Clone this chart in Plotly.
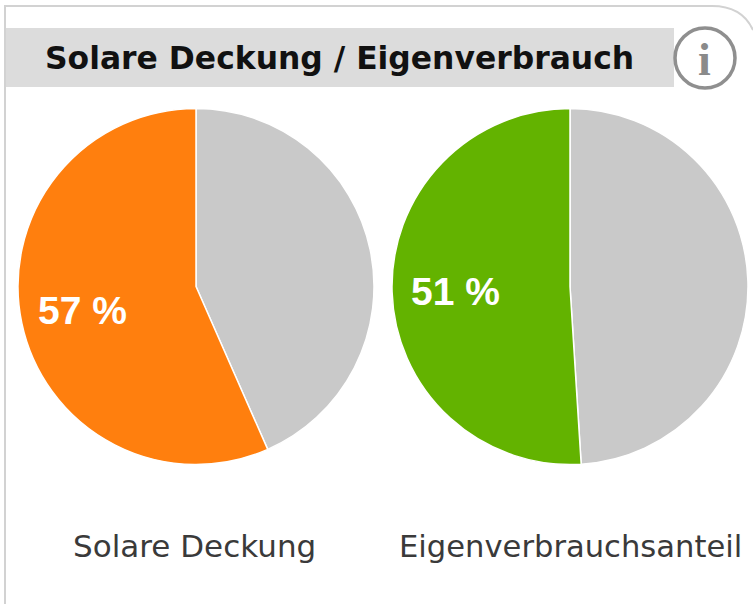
import plotly.graph_objects as go

title_text = "Solare Deckung / Eigenverbrauch"
chart_labels = ["Solare Deckung", "Eigenverbrauchsanteil"]
slice_labels = ["Rest", "Anteil"]
solar_values = [43.4, 56.6]
self_values = [49, 51]
percent_labels = ["57 %", "51 %"]
solar_colors = ["#c9c9c9", "#ff7f0e"]
self_colors = ["#c9c9c9", "#63b300"]

W, H = 753, 604
def px(x): return x / W
def py(y): return 1 - y / H

fig = go.Figure()
for vals, cols, x0, x1 in [(solar_values, solar_colors, 18, 374), (self_values, self_colors, 392, 748)]:
    fig.add_trace(go.Pie(
        values=vals, labels=slice_labels, sort=False, direction="clockwise", rotation=0,
        marker=dict(colors=cols, line=dict(color="white", width=1.5)),
        textinfo="none", showlegend=False, hoverinfo="label+percent",
        domain=dict(x=[px(x0), px(x1)], y=[py(464.5), py(108.5)]),
    ))

shapes = [
    dict(type="path", xref="paper", yref="paper", layer="below",
         path=f"M {px(5)} 0 L {px(5)} {py(6)} L {px(712)} {py(6)} Q {px(742)} {py(6)} {px(753)} {py(30)}",
         line=dict(color="#d2d2d2", width=2)),
    dict(type="rect", xref="paper", yref="paper", layer="below",
         x0=px(6), x1=px(674), y0=py(87), y1=py(28),
         fillcolor="#dcdcdc", line=dict(width=0)),
    dict(type="circle", xref="paper", yref="paper",
         x0=px(675), x1=px(735), y0=py(88), y1=py(28),
         fillcolor="white", line=dict(color="#8f8f8f", width=3.5)),
]
annotations = [
    dict(text=f"<b>{title_text}</b>", x=px(339), y=py(58), font=dict(family="DejaVu Sans", size=31.4, color="#111")),
    dict(text="<b>i</b>", x=px(704.5), y=py(59), font=dict(family="Liberation Serif", size=46, color="#8a8a8a")),
    dict(text=percent_labels[0], x=px(82), y=py(310), font=dict(family="Liberation Sans", size=39, color="white", weight="bold")),
    dict(text=percent_labels[1], x=px(455), y=py(291), font=dict(family="Liberation Sans", size=39, color="white", weight="bold")),
    dict(text=chart_labels[0], x=px(194), y=py(546), font=dict(family="DejaVu Sans", size=31, color="#3a3a3a")),
    dict(text=chart_labels[1], x=px(570.5), y=py(546), font=dict(family="DejaVu Sans", size=30.6, color="#3a3a3a")),
]
for a in annotations:
    a.update(xref="paper", yref="paper", showarrow=False, xanchor="center", yanchor="middle")

fig.update_layout(width=W, height=H, margin=dict(l=0, r=0, t=0, b=0), autosize=False,
                  paper_bgcolor="white", shapes=shapes, annotations=annotations)
fig.write_html("out.html", config=dict(displayModeBar=False),
               post_script="document.body.style.margin='0';document.documentElement.style.overflow='hidden';")
